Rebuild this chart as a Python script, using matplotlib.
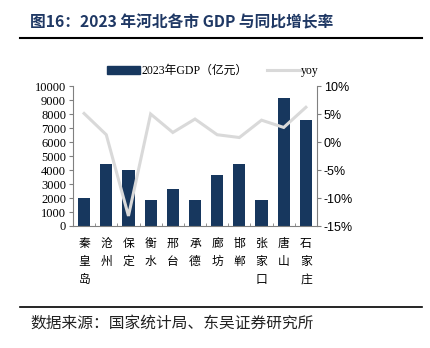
import matplotlib
matplotlib.use("Agg")
import matplotlib.pyplot as plt
from matplotlib.lines import Line2D
from matplotlib.patches import Patch
import numpy as np

cities = ["秦皇岛", "沧州", "保定", "衡水", "邢台", "承德", "廊坊", "邯郸", "张家口", "唐山", "石家庄"]
gdp = [2020, 4440, 4030, 1880, 2610, 1850, 3630, 4400, 1850, 9130, 7540]
yoy = [5.1, 1.3, -13.2, 5.0, 1.7, 4.1, 1.3, 0.8, 3.9, 2.6, 6.2]
left_ticks = list(range(0, 10001, 1000))
right_ticks = [-15, -10, -5, 0, 5, 10]

CJK = ["Noto Sans CJK SC", "DejaVu Sans"]
SERIF = ["Liberation Serif", "Noto Sans CJK SC"]
SANS = ["Liberation Sans"]

bar_color = "#17375e"
line_color = "#d9d9d9"

fig = plt.figure(figsize=(4.30, 3.48), dpi=100)
ax = fig.add_axes([73/430, 1-226/348, (317-73)/430, (226-86)/348])
ax2 = ax.twinx()

x = np.arange(len(cities))
ax.bar(x, gdp, width=0.55, color=bar_color, zorder=2)
ax2.plot(x, yoy, color=line_color, lw=2.2, zorder=3, solid_joinstyle="miter")

ax.set_xlim(-0.5, len(cities)-0.5)
ax.set_ylim(0, 10000)
ax.set_yticks(left_ticks)
ax.set_yticklabels([str(v) for v in left_ticks], family=SERIF, fontsize=9)
ax2.set_ylim(-15, 10)
ax2.set_yticks(right_ticks)
ax2.set_yticklabels([f"{v}%" for v in right_ticks], family=SANS, fontsize=9)

ax.set_xticks(x)
ax.set_xticklabels(["\n".join(c) for c in cities], family=CJK, fontsize=8.5, linespacing=1.5, va="top")
ax.tick_params(axis="x", length=0, pad=8)
ax.set_xticks(np.arange(-0.5, len(cities), 1), minor=True)
ax.tick_params(axis="x", which="minor", direction="in", length=2.5, color="#808080")
ax.tick_params(axis="y", length=3, color="#808080", pad=2)
ax2.tick_params(axis="y", length=3, color="#808080", pad=2)

for a in (ax, ax2):
    a.spines["top"].set_visible(False)
    a.spines["left"].set_color("#808080")
    a.spines["right"].set_color("#808080")
    a.spines["bottom"].set_color("#808080")
ax.spines["right"].set_visible(False)
ax2.spines["left"].set_visible(False)
ax2.spines["bottom"].set_visible(False)

handles = [Patch(color=bar_color, label="2023年GDP（亿元）"),
           Line2D([0], [0], color=line_color, lw=2.2, label="yoy")]
fig.legend(handles=handles, loc="center", bbox_to_anchor=(213/430, 1-71/348), ncol=2,
           frameon=False, prop={"family": SERIF + ["Noto Sans CJK SC"], "size": 8.5},
           handlelength=2.8, handleheight=0.6, handletextpad=0.1, columnspacing=1.6)

fig.text(30/430, 1-22/348, "图16：2023 年河北各市 GDP 与同比增长率", family=CJK,
         fontsize=11.3, fontweight="bold", color="#1f3864", va="center", ha="left")
fig.add_artist(Line2D([20/430, 422/430], [1-38/348, 1-38/348], color="black", lw=1.5))
fig.add_artist(Line2D([20/430, 422/430], [1-307/348, 1-307/348], color="black", lw=1.2))
fig.text(30/430, 1-323/348, "数据来源：国家统计局、东吴证券研究所", family=CJK,
         fontsize=11.3, color="#222222", va="center", ha="left")

fig.savefig("out.png", dpi=100)
